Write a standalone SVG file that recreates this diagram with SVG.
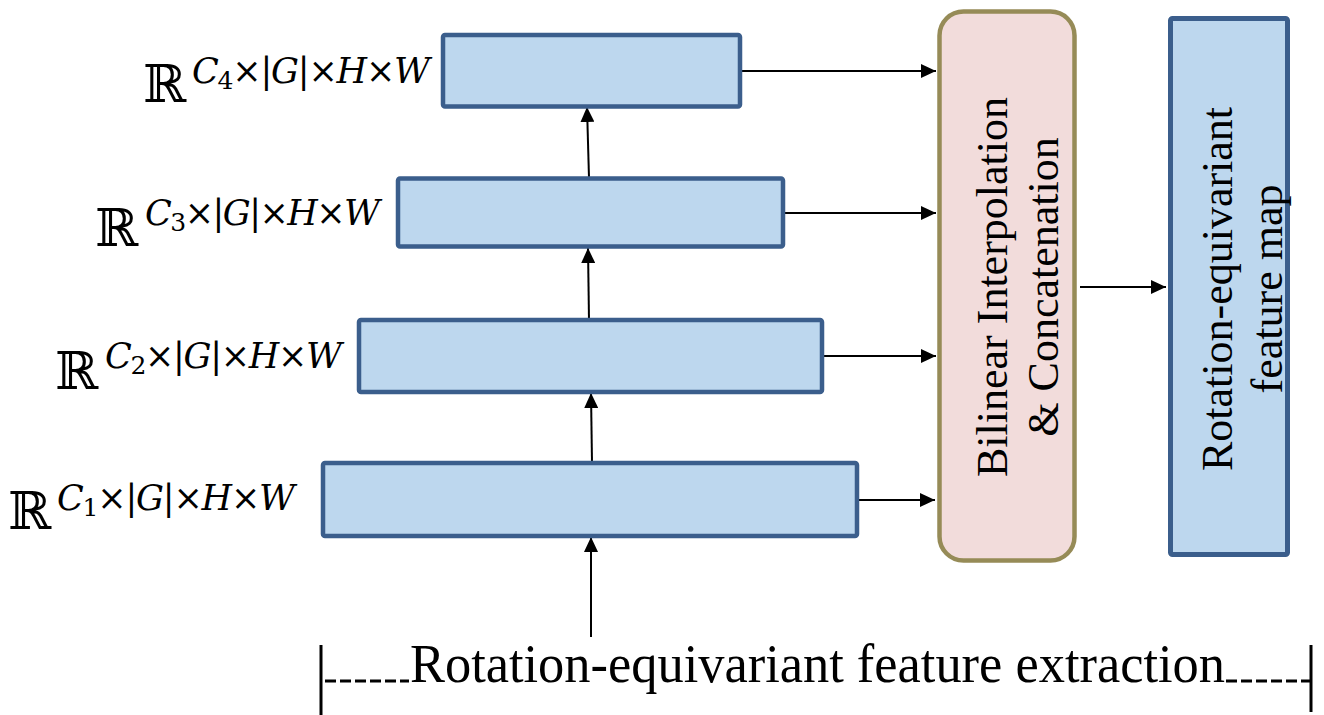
<svg xmlns="http://www.w3.org/2000/svg" width="1324" height="715" viewBox="0 0 1324 715">
<style>
.blk{fill:#BDD7EE;stroke:#3B5E8C;stroke-width:4.5}
.pink{fill:#F2DCDB;stroke:#968B57;stroke-width:4.5}
.conn{stroke:#000;stroke-width:2;fill:none;marker-end:url(#ah)}
.rr{font-family:"DejaVu Serif",serif;font-size:52px;fill:#000}
.m{font-family:"DejaVu Serif",serif;font-size:35px;fill:#000}
.i{font-style:italic}
.sub{font-size:25px;font-style:normal}
.big{font-family:"Liberation Serif","Times New Roman",serif;font-size:44px;fill:#000;text-anchor:middle}
.dash{stroke:#000;stroke-width:3;stroke-dasharray:11 4;fill:none}
.bar{stroke:#000;stroke-width:3;fill:none}
</style>
<defs>
<marker id="ah" viewBox="0 0 15 14" refX="15" refY="7" markerWidth="15" markerHeight="14" markerUnits="userSpaceOnUse" orient="auto">
<path d="M0,0 L15,7 L0,14 z" fill="#000"/>
</marker>
</defs>
<rect width="1324" height="715" fill="#fff"/>

<g id="connectors">
<line class="conn" x1="740" y1="71" x2="936" y2="71"/>
<line class="conn" x1="783" y1="213" x2="936" y2="213"/>
<line class="conn" x1="822" y1="356" x2="936" y2="356"/>
<line class="conn" x1="857" y1="500" x2="935" y2="500"/>
<line class="conn" x1="589" y1="178" x2="587" y2="107"/>
<line class="conn" x1="589" y1="320" x2="588" y2="248"/>
<line class="conn" x1="592" y1="463" x2="591" y2="393"/>
<line class="conn" x1="591" y1="637" x2="591" y2="537"/>
<line class="conn" x1="1080" y1="287" x2="1166" y2="287"/>
</g>

<g id="block4">
<rect class="blk" x="443" y="35" width="297" height="71.5" rx="2"/>
<text class="rr" x="143" y="102">ℝ</text>
<text class="m" x="192" y="83" textLength="238" lengthAdjust="spacing"><tspan class="i">C</tspan><tspan class="sub" dy="6">4</tspan><tspan dy="-6">×|</tspan><tspan class="i">G</tspan><tspan>|×</tspan><tspan class="i">H</tspan><tspan>×</tspan><tspan class="i">W</tspan></text>
</g>

<g id="block3">
<rect class="blk" x="398" y="178.5" width="385" height="68" rx="2"/>
<text class="rr" x="95" y="246">ℝ</text>
<text class="m" x="145" y="225" textLength="235" lengthAdjust="spacing"><tspan class="i">C</tspan><tspan class="sub" dy="6">3</tspan><tspan dy="-6">×|</tspan><tspan class="i">G</tspan><tspan>|×</tspan><tspan class="i">H</tspan><tspan>×</tspan><tspan class="i">W</tspan></text>
</g>

<g id="block2">
<rect class="blk" x="359" y="320" width="463" height="72" rx="2"/>
<text class="rr" x="55" y="389">ℝ</text>
<text class="m" x="105" y="368" textLength="237" lengthAdjust="spacing"><tspan class="i">C</tspan><tspan class="sub" dy="6">2</tspan><tspan dy="-6">×|</tspan><tspan class="i">G</tspan><tspan>|×</tspan><tspan class="i">H</tspan><tspan>×</tspan><tspan class="i">W</tspan></text>
</g>

<g id="block1">
<rect class="blk" x="323" y="463" width="534" height="73" rx="2"/>
<text class="rr" x="8" y="529">ℝ</text>
<text class="m" x="57" y="510" textLength="238" lengthAdjust="spacing"><tspan class="i">C</tspan><tspan class="sub" dy="6">1</tspan><tspan dy="-6">×|</tspan><tspan class="i">G</tspan><tspan>|×</tspan><tspan class="i">H</tspan><tspan>×</tspan><tspan class="i">W</tspan></text>
</g>

<g id="fusion">
<rect class="pink" x="939.5" y="11.5" width="135" height="549" rx="24"/>
<text class="big" transform="translate(1007,287) rotate(-90)">Bilinear Interpolation</text>
<text class="big" transform="translate(1058,287) rotate(-90)">&amp; Concatenation</text>
</g>

<g id="output">
<rect class="blk" x="1170.5" y="18.5" width="117" height="536" rx="2" style="stroke-width:5"/>
<text class="big" transform="translate(1232,289) rotate(-90)">Rotation-equivariant</text>
<text class="big" transform="translate(1282,289) rotate(-90)">feature map</text>
</g>

<g id="extraction">
<line class="bar" x1="321" y1="645" x2="321" y2="715"/>
<line class="bar" x1="1311" y1="645" x2="1311" y2="712"/>
<line class="dash" x1="325" y1="681" x2="409" y2="681"/>
<line class="dash" x1="1226" y1="681" x2="1310" y2="681"/>
<text x="410" y="682" font-family="Liberation Serif,'Times New Roman',serif" font-size="55" textLength="815" lengthAdjust="spacingAndGlyphs">Rotation-equivariant feature extraction</text>
</g>
</svg>
